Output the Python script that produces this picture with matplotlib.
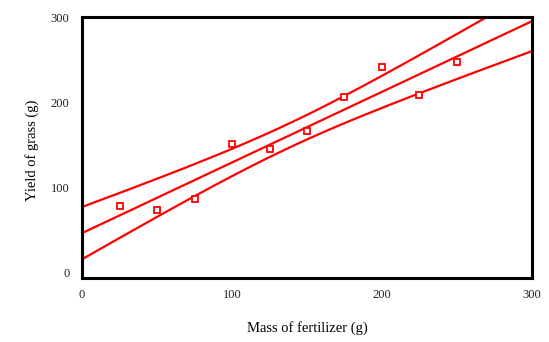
import matplotlib
matplotlib.use("Agg")
import matplotlib.pyplot as plt
import numpy as np

# measured data (fertilizer mass g, grass yield g)
fertilizer = [25, 50, 75, 100, 125, 150, 175, 200, 225, 250]
grass_yield = [79, 74, 87, 151, 145, 166, 206, 242, 209, 247]

x_ticks = [0, 100, 200, 300]
y_ticks = [0, 100, 200, 300]

plt.rcParams['font.family'] = ['Liberation Serif', 'DejaVu Serif']

# least squares fit and 95% confidence band of the mean
x = np.array(fertilizer, dtype=float)
y = np.array(grass_yield, dtype=float)
n = len(x)
slope, intercept = np.polyfit(x, y, 1)
resid = y - (slope * x + intercept)
s = np.sqrt(np.sum(resid ** 2) / (n - 2))
sxx = np.sum((x - x.mean()) ** 2)
t_val = 2.306  # t(0.975, 8)

xs = np.linspace(0, 300, 301)
fit = slope * xs + intercept
half = t_val * s * np.sqrt(1.0 / n + (xs - x.mean()) ** 2 / sxx)

fig = plt.figure(figsize=(5.49, 3.42), dpi=100)
ax = fig.add_axes([0.1494, 0.187, 0.8196, 0.763])

red = '#ff0000'
ax.plot(xs, fit, color=red, lw=1.6)
ax.plot(xs, fit + half, color=red, lw=1.6)
ax.plot(xs, fit - half, color=red, lw=1.6)
ax.plot(fertilizer, grass_yield, linestyle='none', marker='s', markersize=4,
        markerfacecolor='white', markeredgecolor=red, markeredgewidth=1.3)

ax.set_xlim(0, 300)
ax.set_ylim(-6, 300)
ax.set_xticks(x_ticks)
ax.set_yticks(y_ticks)
ax.tick_params(length=0, labelsize=9, labelcolor='#222222')
ax.tick_params(axis='x', pad=8)
ax.tick_params(axis='y', pad=9)

for sp in ax.spines.values():
    sp.set_linewidth(2.2)

ax.set_xlabel('Mass of fertilizer (g)', fontsize=10.5, labelpad=14)
ax.set_ylabel('Yield of grass (g)', fontsize=10.5)
ax.yaxis.set_label_coords(-0.096, 0.49)

fig.savefig('out.png', dpi=100)
